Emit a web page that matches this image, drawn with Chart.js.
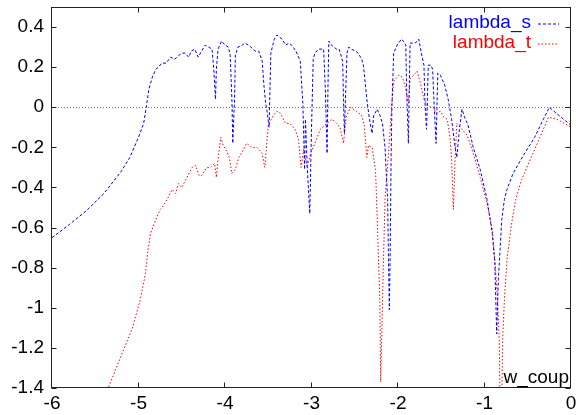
<!DOCTYPE html>
<html>
<head>
<meta charset="utf-8">
<script src="https://cdn.jsdelivr.net/npm/chart.js@4"></script>
<style>
  html, body { margin: 0; padding: 0; background: #fff; }
</style>
</head>
<body>
<canvas id="myChart" width="576" height="415"></canvas>
<script>
// lambda_s (blue, dashed)
const blueX = [-6.00,-5.80,-5.60,-5.40,-5.20,-5.10,-5.00,-4.94,-4.91,-4.88,
  -4.86,-4.84,-4.80,-4.77,-4.73,-4.68,-4.63,-4.58,-4.53,-4.49,
  -4.46,-4.42,-4.39,-4.35,-4.31,-4.27,-4.23,-4.19,-4.15,-4.13,
  -4.11,-4.10,-4.08,-4.04,-4.00,-3.96,-3.94,-3.92,-3.91,-3.89,
  -3.88,-3.85,-3.80,-3.77,-3.73,-3.70,-3.65,-3.61,-3.57,-3.55,
  -3.53,-3.51,-3.49,-3.48,-3.47,-3.43,-3.40,-3.37,-3.34,-3.30,
  -3.26,-3.23,-3.18,-3.13,-3.10,-3.08,-3.07,-3.05,-3.02,-3.00,
  -2.98,-2.96,-2.92,-2.89,-2.86,-2.84,-2.82,-2.81,-2.80,-2.77,
  -2.74,-2.71,-2.68,-2.64,-2.63,-2.62,-2.60,-2.59,-2.57,-2.54,
  -2.49,-2.46,-2.42,-2.40,-2.36,-2.33,-2.30,-2.28,-2.24,-2.21,
  -2.18,-2.15,-2.12,-2.11,-2.10,-2.09,-2.08,-2.07,-2.05,-2.01,
  -1.96,-1.94,-1.91,-1.90,-1.88,-1.87,-1.86,-1.83,-1.80,-1.76,
  -1.73,-1.70,-1.69,-1.67,-1.66,-1.65,-1.62,-1.60,-1.58,-1.56,
  -1.55,-1.54,-1.51,-1.46,-1.42,-1.38,-1.34,-1.32,-1.29,-1.26,
  -1.23,-1.19,-1.13,-1.05,-0.97,-0.91,-0.88,-0.867,-0.859,-0.84,
  -0.82,-0.80,-0.77,-0.74,-0.67,-0.55,-0.42,-0.32,-0.25,-0.17,0.00];
const blueY = [-0.65,-0.585,-0.515,-0.43,-0.32,-0.25,-0.15,-0.08,0.00,0.09,
  0.12,0.15,0.19,0.20,0.22,0.22,0.25,0.24,0.26,0.27,
  0.27,0.25,0.28,0.29,0.25,0.28,0.31,0.30,0.29,0.19,
  0.04,0.19,0.29,0.33,0.31,0.30,0.26,0.04,-0.18,0.04,
  0.26,0.30,0.31,0.32,0.31,0.30,0.28,0.28,0.23,0.11,
  0.02,-0.03,-0.10,0.09,0.27,0.34,0.36,0.35,0.34,0.31,
  0.32,0.31,0.28,0.23,0.02,-0.31,-0.06,-0.29,-0.53,-0.11,
  0.24,0.27,0.29,0.29,0.29,0.09,-0.23,0.09,0.33,0.31,
  0.30,0.29,0.29,0.23,0.04,-0.13,0.14,0.27,0.30,0.29,
  0.28,0.27,0.24,0.21,0.04,-0.06,-0.13,-0.04,-0.01,-0.04,
  -0.08,-0.20,-0.46,-0.76,-1.01,-0.71,-0.26,0.01,0.27,0.31,
  0.34,0.33,0.31,0.09,-0.18,0.09,0.32,0.32,0.32,0.34,
  0.27,0.21,0.04,-0.11,0.04,0.21,0.21,0.19,-0.01,-0.18,
  -0.01,0.17,0.16,0.11,0.04,-0.06,-0.20,-0.25,-0.11,-0.01,
  -0.05,-0.09,-0.20,-0.31,-0.46,-0.63,-0.78,-1.00,-1.13,-0.86,
  -0.71,-0.56,-0.46,-0.41,-0.33,-0.24,-0.15,-0.06,0.00,-0.03,-0.09];

// lambda_t (red, dotted)
const redX = [-5.40,-5.35,-5.21,-5.07,-4.98,-4.92,-4.89,-4.86,-4.80,-4.75,
  -4.71,-4.67,-4.61,-4.57,-4.54,-4.50,-4.44,-4.38,-4.34,-4.30,
  -4.27,-4.21,-4.17,-4.12,-4.10,-4.08,-4.05,-4.02,-3.98,-3.95,
  -3.92,-3.88,-3.84,-3.81,-3.75,-3.69,-3.63,-3.57,-3.54,-3.50,
  -3.44,-3.40,-3.36,-3.30,-3.25,-3.19,-3.15,-3.12,-3.09,-3.05,
  -3.01,-2.96,-2.90,-2.82,-2.76,-2.71,-2.67,-2.63,-2.60,-2.55,
  -2.48,-2.42,-2.39,-2.36,-2.34,-2.30,-2.26,-2.24,-2.21,-2.20,
  -2.17,-2.15,-2.11,-2.07,-2.05,-1.99,-1.95,-1.92,-1.88,-1.86,
  -1.80,-1.78,-1.74,-1.70,-1.66,-1.62,-1.59,-1.56,-1.51,-1.47,
  -1.43,-1.40,-1.38,-1.36,-1.34,-1.32,-1.28,-1.20,-1.13,-1.05,
  -0.97,-0.91,-0.88,-0.85,-0.83,-0.82,-0.80,-0.79,-0.77,-0.74,
  -0.69,-0.64,-0.57,-0.47,-0.36,-0.26,-0.16,0.00];
const redY = [-1.46,-1.40,-1.25,-1.10,-0.96,-0.83,-0.71,-0.63,-0.56,-0.51,
  -0.49,-0.46,-0.41,-0.43,-0.38,-0.40,-0.35,-0.30,-0.29,-0.34,
  -0.34,-0.30,-0.30,-0.28,-0.35,-0.26,-0.15,-0.19,-0.22,-0.25,
  -0.33,-0.31,-0.25,-0.23,-0.18,-0.20,-0.20,-0.23,-0.30,-0.09,
  -0.04,-0.02,-0.03,-0.08,-0.08,-0.11,-0.16,-0.30,-0.21,-0.30,
  -0.23,-0.18,-0.11,-0.08,-0.06,-0.08,-0.10,-0.18,-0.05,0.00,
  -0.02,-0.04,-0.09,-0.25,-0.19,-0.20,-0.31,-0.56,-0.96,-1.37,
  -0.80,-0.46,-0.23,0.02,0.13,0.16,0.15,0.11,0.02,0.14,
  0.17,0.18,0.12,0.04,0.01,0.00,0.00,-0.03,-0.02,-0.05,
  -0.06,-0.15,-0.26,-0.51,-0.26,-0.08,-0.10,-0.14,-0.23,-0.35,
  -0.48,-0.61,-0.76,-0.95,-1.16,-1.46,-1.46,-1.16,-0.96,-0.76,
  -0.59,-0.46,-0.36,-0.26,-0.15,-0.05,-0.06,-0.10];

const xTicks = [-6, -5, -4, -3, -2, -1, 0];
const xTickLabels = ['-6', '-5', '-4', '-3', '-2', '-1', '0'];
const yTicks = [-1.4, -1.2, -1, -0.8, -0.6, -0.4, -0.2, 0, 0.2, 0.4];
const yTickLabels = ['-1.4', '-1.2', '-1', '-0.8', '-0.6', '-0.4', '-0.2', '0', '0.2', '0.4'];

const seriesNames = ['lambda_s', 'lambda_t'];
const seriesColors = ['#0000ff', '#ff0000'];
const seriesDash = [[3, 2], [1.5, 2]];
const xLabel = 'w_coup';

const FONT = '"Liberation Sans", Arial, Helvetica, sans-serif';

function toPoints(xs, ys) {
  return xs.map((x, i) => ({ x: x, y: ys[i] }));
}

// gnuplot look: frame, inward ticks, zero axis, key and xlabel inside
const gnuplotLook = {
  id: 'gnuplotLook',
  beforeDatasetsDraw(chart) {
    const { ctx, chartArea: a, scales: { y } } = chart;
    const y0 = Math.round(y.getPixelForValue(0)) + 0.5;
    ctx.save();
    ctx.strokeStyle = '#777';
    ctx.lineWidth = 1;
    ctx.setLineDash([1, 2]);
    ctx.beginPath();
    ctx.moveTo(a.left, y0);
    ctx.lineTo(a.right, y0);
    ctx.stroke();
    ctx.restore();
  },
  afterDatasetsDraw(chart) {
    const { ctx, chartArea: a, scales: { x, y } } = chart;
    const L = a.left - 0.5, R = a.right - 0.5, T = a.top + 0.5, B = a.bottom - 0.5;
    ctx.save();
    ctx.strokeStyle = '#222';
    ctx.lineWidth = 1;
    ctx.setLineDash([]);
    ctx.strokeRect(L, T, R - L, B - T);

    const tl = 5;
    ctx.beginPath();
    xTicks.forEach(v => {
      const px = Math.round(x.getPixelForValue(v)) - 0.5;
      ctx.moveTo(px, B); ctx.lineTo(px, B - tl);
      ctx.moveTo(px, T); ctx.lineTo(px, T + tl);
    });
    yTicks.forEach(v => {
      const py = Math.round(y.getPixelForValue(v)) + 0.5;
      ctx.moveTo(L, py); ctx.lineTo(L + tl, py);
      ctx.moveTo(R, py); ctx.lineTo(R - tl, py);
    });
    ctx.stroke();

    // key
    ctx.font = '19px ' + FONT;
    ctx.textAlign = 'right';
    ctx.textBaseline = 'alphabetic';
    seriesNames.forEach((name, i) => {
      const base = 27.5 + i * 20;
      ctx.fillStyle = seriesColors[i];
      ctx.fillText(name, 531, base);
      ctx.strokeStyle = seriesColors[i];
      ctx.setLineDash(seriesDash[i]);
      ctx.beginPath();
      ctx.moveTo(538, base - 3.5);
      ctx.lineTo(559, base - 3.5);
      ctx.stroke();
    });

    // x label
    ctx.setLineDash([]);
    ctx.fillStyle = '#000';
    ctx.fillText(xLabel, a.right - 2, a.bottom - 5);
    ctx.restore();
  }
};

const ctx = document.getElementById('myChart').getContext('2d');

const myChart = new Chart(ctx, {
  type: 'scatter',
  data: {
    datasets: [
      {
        label: seriesNames[0],
        data: toPoints(blueX, blueY),
        showLine: true,
        borderColor: seriesColors[0],
        borderWidth: 1,
        borderDash: seriesDash[0],
        pointRadius: 0,
        tension: 0
      },
      {
        label: seriesNames[1],
        data: toPoints(redX, redY),
        showLine: true,
        borderColor: seriesColors[1],
        borderWidth: 1,
        borderDash: seriesDash[1],
        pointRadius: 0,
        tension: 0
      }
    ]
  },
  options: {
    responsive: false,
    animation: false,
    devicePixelRatio: 1,
    layout: { padding: { top: 7, right: 5, left: 0, bottom: 0 } },
    plugins: {
      legend: { display: false },
      tooltip: { enabled: false }
    },
    scales: {
      x: {
        type: 'linear',
        min: -6,
        max: 0,
        afterFit: s => {
          s.height = 27;
          s.paddingLeft = 0; s.paddingRight = 0;
        },
        afterBuildTicks: s => { s.ticks = xTicks.map(v => ({ value: v })); },
        grid: { display: false, drawTicks: false },
        border: { display: false },
        ticks: {
          autoSkip: false,
          maxRotation: 0,
          padding: 4,
          color: '#000',
          font: { family: FONT, size: 19 },
          callback: (v, i) => xTickLabels[i]
        }
      },
      y: {
        type: 'linear',
        min: -1.4,
        max: 0.5,
        afterFit: s => {
          s.width = 52;
          s.paddingTop = 0; s.paddingBottom = 0;
        },
        afterBuildTicks: s => { s.ticks = yTicks.map(v => ({ value: v })); },
        grid: { display: false, drawTicks: false },
        border: { display: false },
        ticks: {
          autoSkip: false,
          padding: 8,
          color: '#000',
          font: { family: FONT, size: 19 },
          callback: (v, i) => yTickLabels[i]
        }
      }
    }
  },
  plugins: [gnuplotLook]
});
</script>
</body>
</html>
